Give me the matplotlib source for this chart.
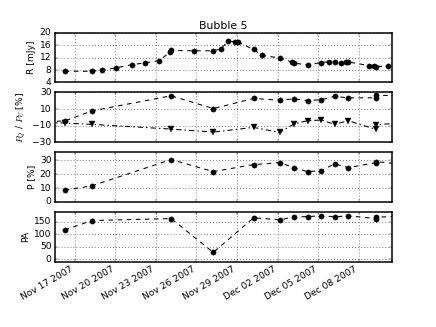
import matplotlib
matplotlib.use('Agg')
import matplotlib.pyplot as plt
import matplotlib.dates as mdates
import pandas as pd

plt.style.use('classic')
plt.rcParams.update({
    'figure.facecolor': 'white',
    'savefig.facecolor': 'white',
    'axes.linewidth': 2.0,
    'font.size': 12,
    'lines.linewidth': 1.4,
    'lines.markersize': 7,
    'grid.linewidth': 0.8,
})

# flux density
r_dates = ['2007-11-16 06:15', '2007-11-18 06:15', '2007-11-19 01:10', '2007-11-20 01:10',
           '2007-11-21 05:00', '2007-11-22 04:00', '2007-11-23 05:00', '2007-11-24 01:10',
           '2007-11-24 03:00', '2007-11-25 20:10', '2007-11-27 06:00', '2007-11-27 20:10',
           '2007-11-28 07:30', '2007-11-28 20:25', '2007-11-29 01:40', '2007-11-30 05:30',
           '2007-11-30 20:10', '2007-12-02 04:00', '2007-12-03 01:00', '2007-12-03 05:00',
           '2007-12-04 05:15', '2007-12-05 06:00', '2007-12-05 19:40', '2007-12-06 05:15',
           '2007-12-06 17:00', '2007-12-07 01:10', '2007-12-07 05:30', '2007-12-08 19:10',
           '2007-12-09 03:00', '2007-12-09 07:10', '2007-12-10 04:30']
r_vals = [7.6, 7.6, 8.0, 8.7, 9.7, 10.3, 11.0, 13.7, 14.3, 14.2, 14.2, 14.8, 17.3, 17.0,
          17.0, 14.6, 12.7, 11.9, 10.6, 10.2, 9.7, 10.4, 10.7, 10.7, 10.4, 10.6, 10.6,
          9.4, 9.2, 9.1, 9.3]

# polarisation epochs
pol_dates = ['2007-11-16 06:15', '2007-11-18 06:15', '2007-11-24 03:00', '2007-11-27 06:00',
             '2007-11-30 05:30', '2007-12-02 04:00', '2007-12-03 05:00', '2007-12-04 05:15',
             '2007-12-05 06:00', '2007-12-06 05:15', '2007-12-07 05:30', '2007-12-09 07:10',
             '2007-12-09 07:10', '2007-12-11 00:00']
qu_dates = ['2007-11-15 00:00'] + pol_dates
pq_vals = [-5.0, -4.5, 7.7, 25.9, 10.5, 22.7, 20.7, 22.2, 20.2, 21.2, 25.1, 23.5, 23.5, 26.7, 26.0]
pu_vals = [-6.5, -6.9, -8.5, -14.2, -17.8, -12.2, -18.2, -8.1, -4.1, -3.3, -8.5, -4.1,
           -14.6, -9.0, -7.0]
p_vals = [8.5, 11.6, 30.6, 21.9, 27.0, 28.4, 24.8, 21.9, 22.6, 27.5, 24.8, 28.4, 29.1, 27.5]
pa_vals = [117, 155, 163, 27, 166, 158, 169, 171, 174, 170, 174, 163, 169, 171]

tick_dates = pd.date_range('2007-11-17', periods=8, freq='3D')
x_start = pd.Timestamp('2007-11-15 12:00')
x_end = pd.Timestamp('2007-12-10 12:00')

fig, axes = plt.subplots(4, 1, sharex=True, figsize=(8, 6), dpi=54.5)
fig.subplots_adjust(left=0.125, right=0.9, top=0.9, bottom=0.2, hspace=0.2)

ax = axes[0]
ax.plot(pd.to_datetime(r_dates), r_vals, 'k--o')
ax.set_ylim(4, 20)
ax.set_yticks([4, 8, 12, 16, 20])
ax.set_ylabel('R [mJy]')
ax.set_title('Bubble 5')

ax = axes[1]
ax.plot(pd.to_datetime(qu_dates), pq_vals, 'k--o')
ax.plot(pd.to_datetime(qu_dates), pu_vals, 'k-.v', dashes=(7, 4, 2, 4))
ax.set_ylim(-30, 30)
ax.set_yticks([-30, -10, 10, 30])
ax.set_ylabel(r'$P_Q$ / $P_U$ [%]')

ax = axes[2]
ax.plot(pd.to_datetime(pol_dates), p_vals, 'k--o')
ax.set_ylim(0, 36)
ax.set_yticks([0, 10, 20, 30])
ax.set_ylabel('P [%]')

ax = axes[3]
ax.plot(pd.to_datetime(pol_dates), pa_vals, 'k--o')
ax.set_ylim(-10, 190)
ax.set_yticks([0, 50, 100, 150])
ax.set_ylabel('PA')

for ax in axes:
    ax.grid(True)
    ax.set_xticks(tick_dates)
    ax.set_xlim(x_start, x_end)
axes[3].xaxis.set_major_formatter(mdates.DateFormatter('%b %d %Y'))
for lab in axes[3].get_xticklabels():
    lab.set_rotation(30)
    lab.set_ha('right')

fig.savefig('out.png', dpi=54.5)
